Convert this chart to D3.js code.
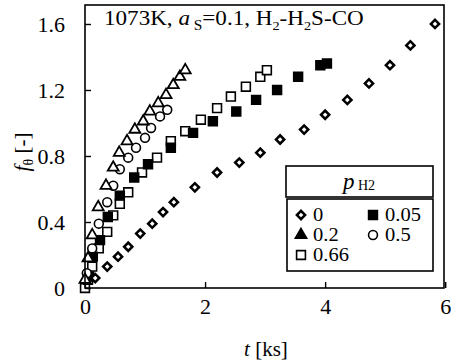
<!DOCTYPE html>
<html lang="en">
<head>
  <meta charset="UTF-8">
  <title>f_theta vs t, 1073K</title>
  <script src="https://d3js.org/d3.v7.min.js"></script>
  <style>
    body { margin: 0; background: #fff; }
    svg text, svg tspan { font-family: "Liberation Serif", "DejaVu Serif", serif !important; fill: #000; }
    .axis path { display: none; }
    .axis line { stroke: #000; stroke-width: 1.4; }
    .axis text { font-size: 22px; }
  </style>
</head>
<body>
<svg width="451" height="363"></svg>
<script>
  // p_H2 = 0 (open diamonds)
  const t0 = [0.17, 0.37, 0.55, 0.72, 0.92, 1.12, 1.3, 1.48, 1.83, 2.2, 2.57, 2.92, 3.25, 3.65, 4.0, 4.37, 4.73, 5.08, 5.42, 5.83];
  const f0 = [0.06, 0.13, 0.19, 0.25, 0.33, 0.39, 0.46, 0.52, 0.61, 0.70, 0.76, 0.82, 0.90, 0.96, 1.05, 1.14, 1.24, 1.35, 1.47, 1.60];
  // p_H2 = 0.05 (filled squares)
  const t005 = [0.07, 0.13, 0.25, 0.38, 0.58, 0.82, 1.05, 1.43, 1.8, 2.13, 2.52, 2.85, 3.2, 3.55, 3.92, 4.03];
  const f005 = [0.07, 0.19, 0.29, 0.43, 0.56, 0.67, 0.75, 0.85, 0.94, 1.01, 1.07, 1.14, 1.2, 1.28, 1.35, 1.36];
  // p_H2 = 0.2 (triangles)
  const t02 = [0, 0.05, 0.12, 0.22, 0.35, 0.47, 0.57, 0.7, 0.83, 0.97, 1.08, 1.22, 1.35, 1.47, 1.58, 1.67];
  const f02 = [0.05, 0.18, 0.32, 0.49, 0.62, 0.73, 0.82, 0.89, 0.96, 1.01, 1.07, 1.12, 1.17, 1.23, 1.28, 1.32];
  // p_H2 = 0.5 (open circles)
  const t05 = [0.03, 0.12, 0.23, 0.37, 0.47, 0.58, 0.72, 0.85, 1.0, 1.1, 1.25, 1.37];
  const f05 = [0.09, 0.24, 0.39, 0.52, 0.62, 0.72, 0.79, 0.85, 0.91, 0.97, 1.04, 1.08];
  // p_H2 = 0.66 (open squares)
  const t066 = [0, 0.05, 0.12, 0.23, 0.37, 0.47, 0.58, 0.72, 0.95, 1.2, 1.43, 1.67, 1.93, 2.2, 2.43, 2.68, 2.92, 3.03];
  const f066 = [0, 0.05, 0.13, 0.24, 0.34, 0.44, 0.51, 0.58, 0.70, 0.79, 0.89, 0.95, 1.02, 1.09, 1.16, 1.22, 1.28, 1.32];

  const xTicks = [0, 2, 4, 6];
  const yTicks = [0, 0.4, 0.8, 1.2, 1.6];

  const series = [
    {name: "0.66", t: t066, f: f066, shape: "square", fill: false},
    {name: "0.05", t: t005, f: f005, shape: "square", fill: true},
    {name: "0.5", t: t05, f: f05, shape: "circle", fill: false},
    {name: "0.2", t: t02, f: f02, shape: "triangle", fill: false},
    {name: "0", t: t0, f: f0, shape: "diamond", fill: false}
  ];

  const svg = d3.select("svg");
  const pLeft = 85, pRight = 444, pTop = 5, pBottom = 288;

  const x = d3.scaleLinear().domain([0, 5.98]).range([pLeft, pRight]);
  const y = d3.scaleLinear().domain([0, 1.715]).range([pBottom, pTop]);

  // draws one marker into a group already translated to its spot
  function marker(sel, shape, filled) {
    let gen, rot = 0, sw = 1.6;
    if (shape === "square") gen = d3.symbol(d3.symbolSquare, 78);
    else if (shape === "circle") gen = d3.symbol(d3.symbolCircle, 62);
    else if (shape === "triangle") { gen = d3.symbol(d3.symbolTriangle, 52); sw = 1.8; }
    else { gen = d3.symbol(d3.symbolSquare, 34); rot = 45; sw = 2.5; }
    sel.append("path")
      .attr("d", gen())
      .attr("transform", `rotate(${rot})`)
      .attr("fill", filled ? "#000" : "#fff")
      .attr("stroke", "#000")
      .attr("stroke-width", sw);
  }

  function drawPoint(px, py, shape, filled) {
    const g = svg.append("g").attr("transform", `translate(${px},${py})`);
    marker(g, shape, filled);
  }

  series.forEach(s => {
    s.t.forEach((tv, i) => drawPoint(x(tv), y(s.f[i]), s.shape, s.fill));
  });

  // axes with inward ticks
  svg.append("g").attr("class", "axis")
    .attr("transform", `translate(0,${pBottom})`)
    .call(d3.axisBottom(x).tickValues(xTicks).tickSize(-6).tickPadding(10).tickFormat(d3.format("d")))
    .attr("font-family", null).attr("font-size", null);
  svg.append("g").attr("class", "axis")
    .attr("transform", `translate(${pLeft},0)`)
    .call(d3.axisLeft(y).tickValues(yTicks).tickSize(-6).tickPadding(20).tickFormat(d => d === 0 ? "0" : d3.format(".1f")(d)))
    .attr("font-family", null).attr("font-size", null);

  svg.append("rect")
    .attr("x", pLeft).attr("y", pTop)
    .attr("width", pRight - pLeft).attr("height", pBottom - pTop)
    .attr("fill", "none").attr("stroke", "#000").attr("stroke-width", 1.6);

  // title (the scan's type is a little wider than Times, so stretch it)
  const title = svg.append("text").attr("transform", "translate(104,25) scale(1.1,1)").style("font-size", "21px");
  title.append("tspan").text("1073K, ");
  title.append("tspan").style("font-style", "italic").text("a");
  title.append("tspan").attr("dy", 5).style("font-size", "14px").text(" S");
  title.append("tspan").attr("dy", -5).text("=0.1, H");
  title.append("tspan").attr("dy", 5).style("font-size", "13px").text("2");
  title.append("tspan").attr("dy", -5).text("-H");
  title.append("tspan").attr("dy", 5).style("font-size", "13px").text("2");
  title.append("tspan").attr("dy", -5).text("S-CO");

  // axis titles
  const xl = svg.append("text").attr("x", 266).attr("y", 356).attr("text-anchor", "middle").style("font-size", "21px");
  xl.append("tspan").style("font-style", "italic").text("t");
  xl.append("tspan").text("  [ks]");

  const yl = svg.append("text").attr("transform", "translate(29,152) rotate(-90)")
    .attr("text-anchor", "middle").style("font-size", "21px");
  yl.append("tspan").style("font-style", "italic").text("f");
  yl.append("tspan").attr("dy", 4).style("font-size", "14px").text("θ");
  yl.append("tspan").attr("dy", -4).text(" [-]");

  // legend
  const lg = svg.append("g");
  lg.append("rect").attr("x", 286).attr("y", 166).attr("width", 147).attr("height", 31)
    .attr("fill", "#fff").attr("stroke", "#000").attr("stroke-width", 1.6);
  lg.append("rect").attr("x", 287).attr("y", 199).attr("width", 146).attr("height", 72)
    .attr("fill", "#fff").attr("stroke", "#000").attr("stroke-width", 1.6);
  const lh = lg.append("text").attr("x", 359).attr("y", 189).attr("text-anchor", "middle").style("font-size", "23px");
  lh.append("tspan").style("font-style", "italic").text("p");
  lh.append("tspan").attr("dy", 1).style("font-size", "14px").text(" H2");

  const legendItems = [
    {name: "0", shape: "diamond", fill: false, col: 0, row: 0},
    {name: "0.05", shape: "square", fill: true, col: 1, row: 0},
    {name: "0.2", shape: "triangle", fill: true, col: 0, row: 1},
    {name: "0.5", shape: "circle", fill: false, col: 1, row: 1},
    {name: "0.66", shape: "square", fill: false, col: 0, row: 2}
  ];
  legendItems.forEach(d => {
    const lx = 301 + d.col * 72, ly = 215 + d.row * 20;
    const g = lg.append("g").attr("transform", `translate(${lx},${ly})`);
    marker(g, d.shape, d.fill);
    lg.append("text").attr("transform", `translate(${lx + 12},${ly + 6}) scale(1.08,1)`)
      .style("font-size", "19px").text(d.name);
  });
</script>
</body>
</html>
